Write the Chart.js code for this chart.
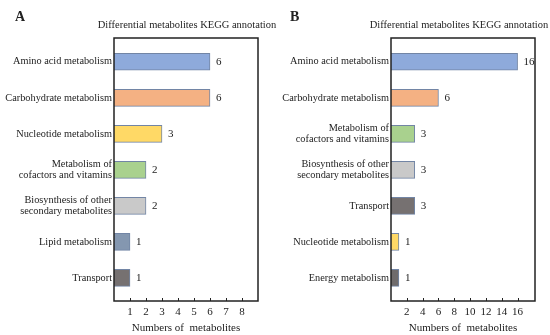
<!DOCTYPE html>
<html>
<head>
<meta charset="utf-8">
<script src="https://cdn.jsdelivr.net/npm/chart.js@4.4.1/dist/chart.umd.min.js"></script>
<style>
    html, body { margin: 0; padding: 0; background: #fff; }
    .panel { position: absolute; top: 0; height: 335px; }
    #panelA { left: 0; width: 285px; }
    #panelB { left: 275px; width: 275px; }
</style>
</head>
<body>
<div class="panel" id="panelA"><canvas id="chartA" width="285" height="335"></canvas></div>
<div class="panel" id="panelB"><canvas id="chartB" width="275" height="335"></canvas></div>
<script>
// Panel A data
const categoriesA = [
    'Amino acid metabolism',
    'Carbohydrate metabolism',
    'Nucleotide metabolism',
    ['Metabolism of', 'cofactors and vitamins'],
    ['Biosynthesis of other', 'secondary metabolites'],
    'Lipid metabolism',
    'Transport'
];
const valuesA = [6, 6, 3, 2, 2, 1, 1];
const colorsA = ['#8eaadb', '#f4b183', '#ffd966', '#a9d18e', '#c9c9c9', '#8497b0', '#767171'];

// Panel B data
const categoriesB = [
    'Amino acid metabolism',
    'Carbohydrate metabolism',
    ['Metabolism of', 'cofactors and vitamins'],
    ['Biosynthesis of other', 'secondary metabolites'],
    'Transport',
    'Nucleotide metabolism',
    'Energy metabolism'
];
const valuesB = [16, 6, 3, 3, 3, 1, 1];
const colorsB = ['#8eaadb', '#f4b183', '#a9d18e', '#c9c9c9', '#767171', '#ffd966', '#6f6b6b'];

const chartTitle = 'Differential metabolites KEGG annotation';
const xTitle = 'Numbers of  metabolites';

const FONT = "'Liberation Serif', 'Times New Roman', serif";

// box, inward ticks, value labels, title and panel letter
const decorPlugin = {
    id: 'decor',
    afterDatasetsDraw(chart) {
        const { ctx, chartArea: a } = chart;
        const opts = chart.options.plugins.decor;
        const xs = chart.scales.x;

        ctx.save();
        // value labels
        ctx.fillStyle = '#222';
        ctx.font = '11px ' + FONT;
        ctx.textAlign = 'left';
        ctx.textBaseline = 'middle';
        const meta = chart.getDatasetMeta(0);
        meta.data.forEach((bar, i) => {
            ctx.fillText(String(chart.data.datasets[0].data[i].x), bar.x + 6, bar.y);
        });

        // inward tick marks
        ctx.strokeStyle = '#222';
        ctx.lineWidth = 1;
        xs.ticks.forEach(t => {
            if (t.value <= xs.min || t.value >= xs.max) return;
            const px = Math.round(xs.getPixelForValue(t.value)) + 0.5;
            ctx.beginPath();
            ctx.moveTo(px, a.bottom);
            ctx.lineTo(px, a.bottom - 3);
            ctx.stroke();
        });

        // plot box
        ctx.lineWidth = 1.5;
        ctx.strokeRect(a.left, a.top, a.right - a.left, a.bottom - a.top);

        // title over plot area
        ctx.fillStyle = '#222';
        ctx.textAlign = 'center';
        ctx.textBaseline = 'middle';
        ctx.font = '10.5px ' + FONT;
        ctx.fillText(chartTitle, (a.left + a.right) / 2 + opts.titleShift, 25);

        // panel letter
        ctx.textAlign = 'left';
        ctx.font = 'bold 14px ' + FONT;
        ctx.fillText(opts.letter, 15, 17);
        ctx.restore();
    }
};

function makeChart(canvasId, letter, categories, values, colors, xMax, xStep, yWidth, padRight, titleShift) {
    const ctx = document.getElementById(canvasId).getContext('2d');
    return new Chart(ctx, {
        type: 'bar',
        data: {
            datasets: [{
                data: values.map((v, i) => ({ x: v, y: i })),
                backgroundColor: colors,
                borderColor: '#7285a5',
                borderWidth: 1,
                barThickness: 17
            }]
        },
        options: {
            indexAxis: 'y',
            responsive: false,
            animation: false,
            layout: { padding: { left: 0, top: 38, right: padRight, bottom: 0 } },
            plugins: {
                legend: { display: false },
                tooltip: { enabled: false },
                decor: { letter: letter, titleShift: titleShift }
            },
            scales: {
                y: {
                    type: 'linear',
                    reverse: true,
                    offset: false,
                    min: -0.66,
                    max: categories.length - 1 + 0.64,
                    afterBuildTicks: (s) => { s.ticks = categories.map((c, i) => ({ value: i })); },
                    afterFit: (s) => { s.width = yWidth; },
                    grid: { display: false, drawTicks: false },
                    border: { display: false },
                    ticks: {
                        autoSkip: false,
                        padding: 2,
                        color: '#222',
                        font: { family: FONT, size: 10.3, lineHeight: 1.12 },
                        callback: (v) => categories[v]
                    }
                },
                x: {
                    min: 0,
                    max: xMax,
                    afterFit: (s) => { s.height = 34; },
                    grid: { display: false, drawTicks: false },
                    border: { display: false },
                    ticks: {
                        stepSize: xStep,
                        autoSkip: false,
                        maxRotation: 0,
                        minRotation: 0,
                        padding: 5,
                        color: '#222',
                        font: { family: FONT, size: 11 },
                        callback: (v) => (v <= 0 || v >= xMax - 0.5) ? '' : v
                    },
                    title: {
                        display: true,
                        text: xTitle,
                        color: '#222',
                        font: { family: FONT, size: 11 },
                        padding: { top: 0, bottom: 0 }
                    }
                }
            }
        },
        plugins: [decorPlugin]
    });
}

makeChart('chartA', 'A', categoriesA, valuesA, colorsA, 9, 1, 114, 27, 1);
makeChart('chartB', 'B', categoriesB, valuesB, colorsB, 18.2, 2, 116, 15, -4);
</script>
</body>
</html>
